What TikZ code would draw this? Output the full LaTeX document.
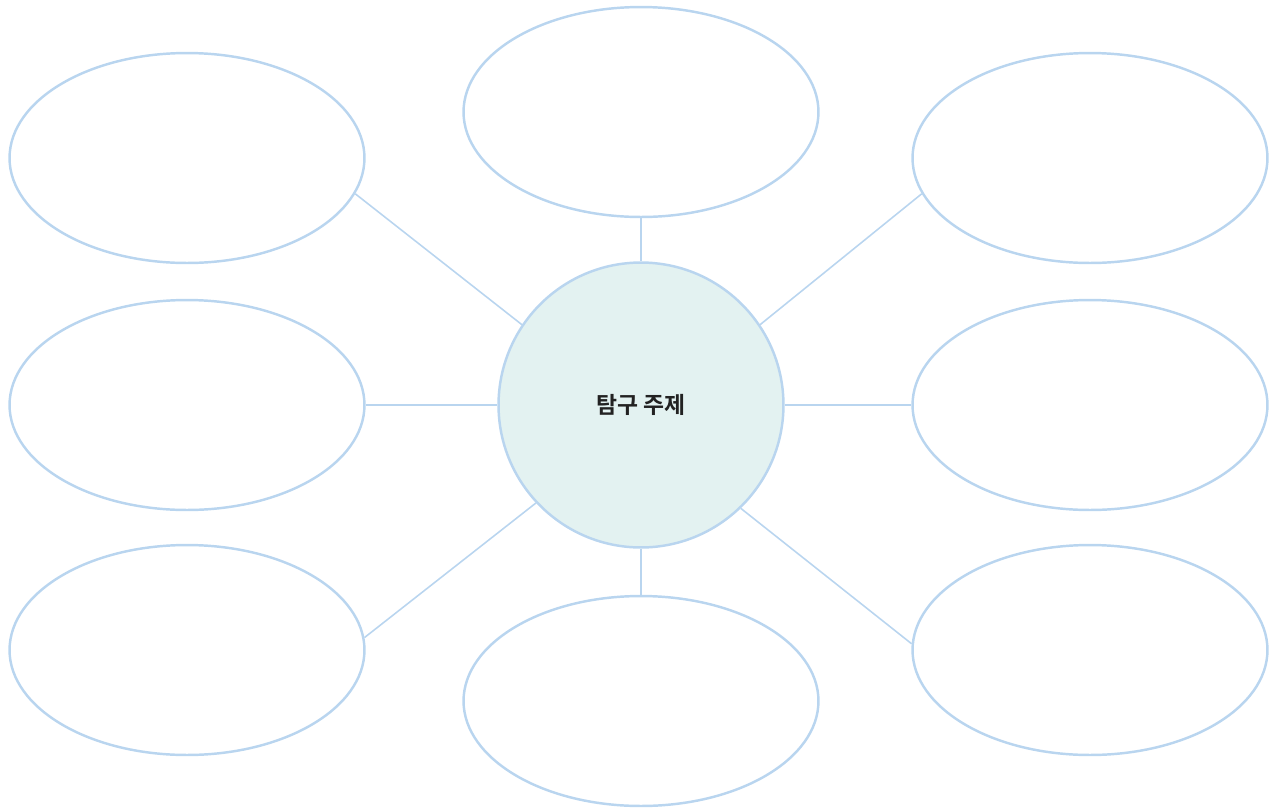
\documentclass[tikz,border=0pt]{standalone}
\usepackage{fontspec}
\newfontfamily\krfont{Noto Sans CJK KR Bold}
\usepackage{tikz}
\usetikzlibrary{shapes.geometric}

\definecolor{lineblue}{HTML}{B9D5EF}
\definecolor{topicfill}{HTML}{E3F2F1}
\definecolor{topictext}{HTML}{222222}

\tikzset{
    bubble/.style={ellipse, draw=lineblue, line width=1.4pt, inner sep=0pt,
        minimum width=7.1cm, minimum height=4.2cm},
    topic/.style={circle, draw=lineblue, fill=topicfill, line width=1.4pt,
        inner sep=0pt, minimum size=5.7cm, text=topictext},
    link/.style={draw=lineblue, line width=0.9pt}
}

\begin{document}
\begin{tikzpicture}[x=0.02cm,y=-0.02cm]
    \useasboundingbox (0,0) rectangle (1276,809);

    \node[topic] (topic) at (641,405) {\krfont\fontsize{13}{15}\selectfont 탐구 주제};

    \node[bubble] (tl) at (187,158) {};
    \node[bubble] (tm) at (641,112) {};
    \node[bubble] (tr) at (1090,158) {};
    \node[bubble] (ml) at (187,405) {};
    \node[bubble] (mr) at (1090,405) {};
    \node[bubble] (bl) at (187,650) {};
    \node[bubble] (bm) at (641,701) {};
    \node[bubble] (br) at (1090,650) {};

    % spokes
    \draw[link] (tl.-12) -- (topic.146);
    \draw[link] (tm.south) -- (topic.north);
    \draw[link] (tr.192) -- (topic.34);
    \draw[link] (ml.east) -- (topic.west);
    \draw[link] (topic.east) -- (mr.west);
    \draw[link] (bl.4) -- (topic.-137);
    \draw[link] (topic.south) -- (bm.north);
    \draw[link] (br.178) -- (topic.-46);
\end{tikzpicture}
\end{document}
